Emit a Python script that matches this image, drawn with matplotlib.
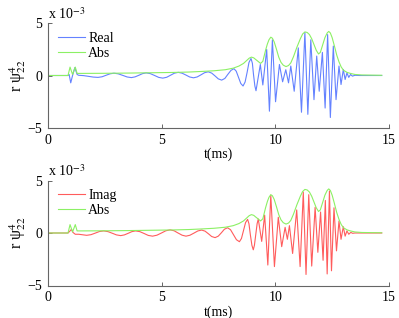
import matplotlib
matplotlib.use("Agg")
import matplotlib.pyplot as plt

# time samples (ms) and values (x 1e-3)
real_t = [0, 0.88, 0.93, 1.0, 1.08, 1.18, 1.28, 1.35, 1.56, 1.78, 1.99, 2.2, 2.38, 2.55, 2.73, 2.9, 3.09, 3.29, 3.48,
          3.67, 3.83, 4.0, 4.16, 4.32, 4.5, 4.69, 4.87, 5.05, 5.22, 5.39, 5.56, 5.73, 5.9, 6.07, 6.23, 6.4, 6.56, 6.73,
          6.89, 7.05, 7.2, 7.35, 7.49, 7.64, 7.78, 7.91, 8.05, 8.18, 8.28, 8.38, 8.48, 8.58, 8.67, 8.76, 8.84, 8.93,
          8.99, 9.04, 9.1, 9.15, 9.34, 9.45, 9.62, 9.74, 9.87, 10.01,
          10.18, 10.32, 10.46, 10.58, 10.68, 10.83, 11.01, 11.15, 11.3, 11.43, 11.56, 11.7, 11.82, 11.93, 12.07, 12.19,
          12.3, 12.42, 12.55, 12.67, 12.8, 12.89, 12.99, 13.07, 13.15, 13.23, 13.31, 13.39, 13.5, 13.7, 14.68]
real_v = [0, 0, 0.1, -0.7, 0, 0.75, 0.1, 0.02, -0.01, -0.08, -0.15, -0.18, -0.12, 0.02, 0.16, 0.22, 0.16, 0.01, -0.14,
          -0.2, -0.13, 0.025, 0.18, 0.25, 0.18, 0.0, -0.18, -0.25, -0.17, 0.025, 0.22, 0.3, 0.22, 0.04, -0.14, -0.22, -0.14, 0.065,
          0.27, 0.35, 0.23, -0.045, -0.32, -0.44, -0.28, 0.105, 0.49, 0.65, 0.41, -0.175, -0.76, -1.0, -0.62, 0.31, 1.24, 1.62,
          1.17, 0.085, -1.0, -1.45, 1.05, -0.9, 2.48, -3.4, 3.4, -2.5,
          1.05, -0.6, 0.55, -0.7, 0.9, -1.5, 2.63, -3.5, 4.1, -3.7, 3.4, -2.3, 1.85, -1.5, 2.2, -3.1,
          3.9, -4.0, 2.8, -2.3, 0.9, -0.86, 0.57, -0.38, 0.25, -0.18, 0.1, -0.06, 0.02, 0, 0]

imag_t = [0, 0.88, 0.95, 1.03, 1.1, 1.2, 1.35, 1.7, 1.89, 2.08, 2.26, 2.45, 2.64, 2.83, 3.01, 3.2, 3.36, 3.53, 3.69,
          3.85, 4.04, 4.23, 4.41, 4.6, 4.79, 4.99, 5.18, 5.37, 5.55, 5.72, 5.9, 6.07, 6.24, 6.42, 6.59, 6.76, 6.91, 7.06,
          7.2, 7.35, 7.49, 7.63, 7.76, 7.9, 8.03, 8.16, 8.29, 8.42, 8.51, 8.6, 8.69, 8.78, 8.84, 8.9, 8.97, 9.03, 9.08,
          9.14, 9.2, 9.25, 9.4, 9.53, 9.67, 9.8, 9.96, 10.13, 10.28,
          10.43, 10.53, 10.62, 10.76, 10.94, 11.09, 11.23, 11.35, 11.47, 11.6, 11.75, 11.87, 11.99, 12.1, 12.2, 12.28,
          12.38, 12.47, 12.58, 12.69, 12.8, 12.89, 12.99, 13.07, 13.15, 13.23, 13.32, 13.4, 13.5, 13.7, 14.68]
imag_v = [0, 0, 0.15, 0.35, 0.05, -0.12, -0.12, -0.22, -0.16, -0.01, 0.14, 0.2, 0.13, -0.025, -0.18, -0.25, -0.18, -0.025, 0.13,
          0.2, 0.13, -0.05, -0.23, -0.3, -0.21, 0.0, 0.21, 0.3, 0.21, 0.0, -0.21, -0.3, -0.215, -0.01, 0.195, 0.28, 0.175, -0.08,
          -0.335, -0.44, -0.3, 0.03, 0.36, 0.5, 0.31, -0.165, -0.64, -0.83, -0.52, 0.235, 0.99, 1.3, 0.88, -0.15, -1.18, -1.6, -1.17,
          -0.135, 0.9, 1.33, -0.8, 1.7, -3.05, 3.6, -3.2, 1.5, -1.3,
          0.54, -0.6, 0.7, -1.95, 2.2, -3.2, 3.9, -3.95, 3.65, -3.15, 2.45, -1.84, 2.0, -2.6, 3.1, -3.9,
          4.0, -3.6, 2.4, -1.7, 1.14, -0.6, 0.6, -0.3, 0.2, -0.12, 0.06, -0.03, 0.0, 0, 0]

abs_t = [0, 0.88, 0.97, 1.08, 1.2, 1.28, 1.5, 2.5, 3.5, 4.5, 5.5, 6.2, 6.7, 7.3, 7.8, 8.15, 8.4, 8.6, 8.75, 8.85, 8.95,
         9.05, 9.15, 9.25, 9.35, 9.45, 9.57, 9.65, 9.72, 9.8, 9.87, 9.95, 10.05, 10.15, 10.25, 10.35, 10.47, 10.58,
         10.68, 10.8, 10.95, 11.1, 11.2, 11.3, 11.4, 11.5, 11.6, 11.7, 11.8, 11.9, 11.98, 12.08, 12.18, 12.28, 12.35,
         12.42, 12.5, 12.6, 12.7, 12.8, 12.9, 13.0, 13.15, 13.3, 13.5, 13.8, 14.68]
abs_v = [0, 0, 0.8, 0.1, 0.8, 0.2, 0.2, 0.21, 0.23, 0.26, 0.29, 0.33, 0.38, 0.45, 0.55, 0.7, 0.9, 1.15, 1.45, 1.65, 1.75,
         1.68, 1.5, 1.33, 1.15, 1.35, 2.4, 3.0, 3.4, 3.65, 3.55, 3.2, 2.5, 1.75, 1.25, 0.98, 0.85, 0.95,
         1.2, 1.8, 2.7, 3.5, 3.95, 4.15, 4.1, 3.9, 3.5, 2.95, 2.4, 2.05, 2.2, 2.9, 3.6, 4.05, 4.2,
         4.05, 3.6, 2.8, 1.95, 1.3, 0.8, 0.5, 0.3, 0.2, 0.1, 0.05, 0.02]

x_ticks = [0, 5, 10, 15]
y_ticks = [-5, 0, 5]

plt.rcParams['font.family'] = ['Liberation Serif', 'DejaVu Serif']
plt.rcParams['mathtext.fontset'] = 'stix'
plt.rcParams['axes.unicode_minus'] = True

fig = plt.figure(figsize=(3.99, 3.18), dpi=100)
W, H = 399, 318
left = 48 / W
width = 341 / W
panels = [
    (1 - 128 / H, real_t, real_v, '#6482ff', 'Real'),
    (1 - 285.5 / H, imag_t, imag_v, '#ff5c5c', 'Imag'),
]
for bottom, tt, vv, col, lab in panels:
    ax = fig.add_axes([left, bottom, width, 105 / H])
    ax.plot(tt, vv, color=col, lw=0.8, label=lab)
    ax.plot(abs_t, abs_v, color='#8cf064', lw=0.8, label='Abs')
    ax.set_xlim(0, 15)
    ax.set_ylim(-5, 5)
    ax.set_xticks(x_ticks)
    ax.set_yticks(y_ticks)
    for s in ['top', 'right']:
        ax.spines[s].set_visible(False)
    for s in ['left', 'bottom']:
        ax.spines[s].set_color('#666666')
        ax.spines[s].set_linewidth(0.8)
    ax.tick_params(direction='in', length=3, width=0.7, color='#666666', labelsize=10, pad=4)
    ax.set_xlabel('t(ms)', fontsize=10, labelpad=1)
    ax.set_ylabel('r ψ$^{4}_{22}$', fontsize=11.5, labelpad=0)
    ax.text(0.0, 1.01, 'x 10$^{-3}$', transform=ax.transAxes, fontsize=10, ha='left', va='bottom')
    ax.legend(loc='upper left', bbox_to_anchor=(0.012, 0.97), frameon=False, fontsize=10,
              handlelength=2.0, handletextpad=0.2, labelspacing=0.15, borderaxespad=0.0)

fig.savefig('out.png', dpi=100)
